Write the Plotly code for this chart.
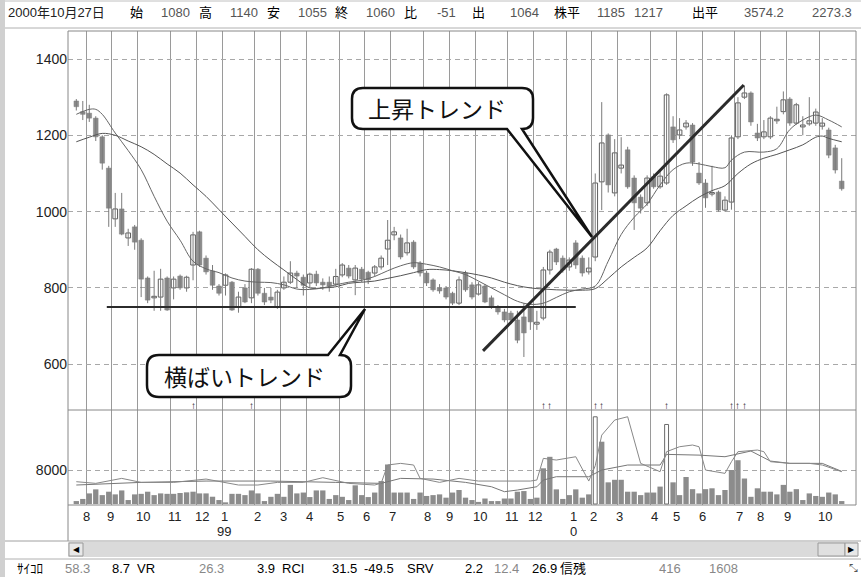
import plotly.graph_objects as go

W, H = 861, 577

# ---------------- data ----------------
opens = [1290,1262,1258,1245,1196,1114,981,1007,931,960,925,826,774,776,826,800,831,800,860,947,
         878,844,805,807,815,750,800,774,849,786,776,750,800,815,839,828,813,836,815,815,
         810,834,852,821,849,841,839,855,902,939,931,892,920,865,839,821,800,800,786,760,
         839,808,784,805,774,750,737,734,716,724,750,705,721,847,902,878,855,918,878,842,
         881,1078,1201,1049,1114,1162,1088,1038,1023,1091,1065,1075,1222,1201,1222,1227,1101,1075,1046,1051,
         1004,1025,1196,1300,1311,1206,1196,1196,1238,1262,1295,1232,1222,1230,1232,1224,1214,1167,1080]
highs = [1295,1290,1280,1250,1200,1120,1049,1049,955,965,930,830,845,850,830,830,835,832,947,950,
         885,860,810,838,818,790,810,852,852,800,800,795,830,870,845,835,840,845,825,830,
         850,865,860,860,855,845,860,885,978,960,940,955,925,870,845,825,810,805,790,830,
         845,815,815,810,780,755,745,740,740,760,752,740,855,900,905,885,880,925,885,880,
         1100,1287,1205,1190,1195,1170,1095,1045,1095,1100,1110,1310,1250,1245,1240,1232,1130,1085,1120,1055,
         1040,1200,1300,1330,1315,1230,1240,1250,1275,1315,1300,1285,1250,1300,1270,1245,1220,1175,1140]
lows = [1265,1240,1235,1185,1110,960,960,938,910,900,776,760,740,740,740,770,795,790,820,855,
        835,795,780,780,740,735,760,760,780,755,760,745,795,810,800,780,800,805,795,790,
        805,828,825,781,815,810,830,848,860,925,875,885,850,830,805,790,785,770,755,755,
        790,770,780,760,745,730,710,705,655,619,690,690,715,835,860,840,845,850,830,835,
        870,1004,1050,1040,1100,1060,952,995,1015,1060,1060,1070,1180,1190,1215,1120,1070,1010,1040,1000,
        1000,1005,1190,1295,1225,1185,1190,1190,1230,1255,1225,1228,1200,1225,1225,1215,1140,1100,1055]
closes = [1275,1255,1245,1196,1127,1009,1007,941,944,920,823,768,778,823,742,823,800,828,939,860,
          842,807,786,834,742,776,763,849,786,763,768,789,815,839,831,807,836,813,808,805,
          830,860,831,852,823,821,855,878,925,947,881,918,855,839,813,795,792,776,760,821,
          795,776,808,763,750,737,716,716,663,682,711,710,847,894,868,847,873,860,839,852,
          1075,1180,1070,1154,1122,1065,1023,1009,1088,1065,1093,1306,1188,1214,1232,1130,1075,1036,1049,1004,
          1030,1193,1285,1311,1235,1193,1209,1245,1242,1293,1232,1280,1227,1238,1261,1232,1148,1109,1060]
volumes = [700,1200,2500,3450,2100,2900,2270,3200,940,2270,2400,2900,2100,2500,2400,2400,2600,2750,2900,2500,
           2500,1720,940,400,2400,2400,2100,3200,2500,700,1700,2400,1700,4500,2500,2700,1640,3200,3200,1200,
           2100,1700,940,4400,2100,1640,2700,5400,9300,2700,2700,2700,1200,2700,1900,2100,2270,1500,2700,3300,
           1500,940,500,1300,700,700,1300,1300,2900,3050,1200,1500,8400,11100,3450,1200,2100,3450,1500,2270,
           20500,14650,5100,5700,5700,2900,2900,2100,2700,2700,4100,18700,5100,2100,6350,3500,2500,3500,3700,2100,
           3300,8000,10300,6000,1700,3700,2900,2900,2270,4500,2900,3500,940,2500,1900,1700,2700,2270,700]
hollow_vol_weeks = [80, 91]

# moving averages (week index, value)
ma_short_x = [0,2,3,4,6,8,10,12,14,16,18,20,22,24,26,28,30,32,34,36,38,40,42,44,46,48,50,52,54,56,58,60,
              62,64,66,68,70,72,74,76,78,80,82,84,86,88,90,92,94,96,98,100,101,103,106,108,110,112,114,116,118]
ma_short_y = [1255,1268,1268,1255,1206,1160,1110,1040,975,925,870,850,840,826,818,815,814,808,797,796,800,808,
              815,820,830,845,858,866,862,855,845,835,818,800,782,765,757,760,775,790,797,805,870,940,985,1020,
              1070,1110,1127,1125,1118,1115,1135,1156,1156,1165,1215,1240,1253,1240,1222]
ma_long_x = [0,2,4,6,8,10,12,14,16,18,20,22,24,26,28,30,32,34,36,38,40,42,44,46,48,50,52,54,56,58,60,62,64,66,
             68,70,72,74,76,78,80,82,84,86,88,90,92,94,96,98,100,102,104,106,108,110,112,114,115,116,118]
ma_long_y = [1183,1195,1205,1200,1185,1170,1150,1125,1101,1070,1040,1005,970,935,900,872,847,822,800,800,803,
             812,815,818,825,832,840,848,848,845,840,834,826,815,806,800,797,795,794,794,798,825,855,880,905,
             950,990,1015,1038,1055,1068,1100,1125,1140,1150,1162,1175,1195,1198,1192,1183]
vma_s_x = [0,3,7,10,15,20,25,28,31,35,38,42,46,47,48,50,52,53,56,59,62,66,70,71,72,74,77,79,80,81,83,85,87,
           90,91,93,95,96,97,100,101,102,105,106,107,110,113,115,118]
vma_s_y = [5250,4860,6030,5090,5090,5870,4470,4470,5090,5090,6190,4860,4470,4900,9170,9560,9170,6030,5090,
           6030,5400,5400,5400,5640,10730,10340,11120,5400,9000,16200,19740,20520,9560,7600,12300,13470,
           13870,13470,7990,7210,9950,12300,12690,12300,9950,9560,9560,9170,7600]
vma_l_x = [0,5,10,20,30,40,47,50,55,60,64,66,68,71,72,74,79,81,85,90,91,96,100,104,107,110,115,118]
vma_l_y = [4470,4860,5090,5400,5400,5090,4860,6030,5870,5090,4070,2900,3290,4070,5640,6420,6420,7990,9170,
           9170,11670,11500,11120,12460,10100,9560,9560,7680]

# trend lines (week index, price)
flat_trend_x = [4.7, 77.0]
flat_trend_y = [750, 750]
up_trend_x = [62.7, 102.9]
up_trend_y = [635, 1332]

signal_weeks = [18, 27, 72, 73, 80, 81, 91, 101, 102, 103]

month_grid = [1.5,5.5,9.5,14.5,18.5,22.5,27.5,31.5,35.5,40.5,44.5,48.5,53.5,57.5,61.5,66.5,70.5,75.5,
              79.5,83.5,88.5,92.5,96.5,101.5,105.5,109.5,114.5]
month_label_pos = [1.5,5.2,10.3,15.2,19.4,22.8,27.9,31.9,35.9,40.8,44.8,48.7,54.1,57.6,62.2,67.2,70.7,76.7,
                   79.7,83.8,89.2,92.6,96.6,102.3,105.4,109.6,115.4]
month_labels = ['8','9','10','11','12','1','2','3','4','5','6','7','8','9','10','11','12','1','2','3','4',
                '5','6','7','8','9','10']
year_labels = {5: '99', 17: '0'}

price_ticks = [600, 800, 1000, 1200, 1400]
vol_ticks = [8000]

header_tokens = [("2000年10月27日", 6, '#222'), ("始", 128, '#000'), ("1080", 159, '#555'),
                 ("高", 197, '#000'), ("1140", 228, '#555'), ("安", 265, '#000'), ("1055", 296, '#555'),
                 ("終", 333, '#000'), ("1060", 364, '#555'), ("比", 402, '#000'), ("-51", 435, '#555'),
                 ("出", 470, '#000'), ("1064", 508, '#555'), ("株平", 552, '#000'), ("1185", 595, '#555'),
                 ("1217", 632, '#555'), ("出平", 690, '#000'), ("3574.2", 742, '#555'), ("2273.3", 810, '#555')]
status_tokens = [("ｻｲｺﾛ", 15, '#000'), ("58.3", 63, '#888'), ("8.7", 110, '#000'), ("VR", 135, '#000'),
                 ("26.3", 197, '#888'), ("3.9", 255, '#000'), ("RCI", 280, '#000'), ("31.5", 330, '#000'),
                 ("-49.5", 362, '#000'), ("SRV", 405, '#000'), ("2.2", 463, '#000'), ("12.4", 492, '#888'),
                 ("26.9", 530, '#000'), ("信残", 558, '#000'), ("416", 657, '#888'), ("1608", 707, '#888')]

# ---------------- helpers (pixel -> paper) ----------------
def PX(x):
    return x / W
def PY(y):
    return 1 - y / H

NUMFONT = "Liberation Sans, Noto Sans CJK JP, sans-serif"
JPFONT = "Noto Sans CJK JP, sans-serif"

fig = go.Figure()

n = len(opens)
idx = list(range(n))

# wicks
wx, wy = [], []
for i in idx:
    wx += [i, i, None]
    wy += [lows[i], highs[i], None]
fig.add_trace(go.Scatter(x=wx, y=wy, mode='lines', line=dict(color='#7a7a7a', width=1),
                         hoverinfo='skip', showlegend=False, xaxis='x', yaxis='y'))

# bodies
up_x, up_b, up_h, dn_x, dn_b, dn_h = [], [], [], [], [], []
for i in idx:
    o, c = opens[i], closes[i]
    b = min(o, c)
    h = max(abs(c - o), 4)
    if c >= o:
        up_x.append(i); up_b.append(b); up_h.append(h)
    else:
        dn_x.append(i); dn_b.append(b); dn_h.append(h)
fig.add_trace(go.Bar(x=dn_x, y=dn_h, base=dn_b, width=0.72, marker=dict(color='#8c8c8c', line=dict(color='#7c7c7c', width=0.5)),
                     showlegend=False, xaxis='x', yaxis='y'))
fig.add_trace(go.Bar(x=up_x, y=up_h, base=up_b, width=0.72, marker=dict(color='#ffffff', line=dict(color='#5e5e5e', width=1)),
                     showlegend=False, xaxis='x', yaxis='y'))

# moving averages
fig.add_trace(go.Scatter(x=ma_long_x, y=ma_long_y, mode='lines', line=dict(color='#555', width=1, shape='spline'),
                         showlegend=False, xaxis='x', yaxis='y'))
fig.add_trace(go.Scatter(x=ma_short_x, y=ma_short_y, mode='lines', line=dict(color='#666', width=1, shape='spline'),
                         showlegend=False, xaxis='x', yaxis='y'))

# trend lines
fig.add_trace(go.Scatter(x=flat_trend_x, y=flat_trend_y, mode='lines', line=dict(color='#2b2b2b', width=2),
                         showlegend=False, xaxis='x', yaxis='y'))
fig.add_trace(go.Scatter(x=up_trend_x, y=up_trend_y, mode='lines', line=dict(color='#2b2b2b', width=3),
                         showlegend=False, xaxis='x', yaxis='y'))

# volume
vcol = ['#ffffff' if i in hollow_vol_weeks else '#8c8c8c' for i in idx]
vline = ['#6a6a6a' if i in hollow_vol_weeks else '#8c8c8c' for i in idx]
vlw = [1 if i in hollow_vol_weeks else 0 for i in idx]
vw = [0.6 if i in hollow_vol_weeks else 0.82 for i in idx]
fig.add_trace(go.Bar(x=idx, y=volumes, width=vw, marker=dict(color=vcol, line=dict(color=vline, width=vlw)),
                     showlegend=False, xaxis='x2', yaxis='y2'))
fig.add_trace(go.Scatter(x=vma_l_x, y=vma_l_y, mode='lines', line=dict(color='#777', width=1),
                         showlegend=False, xaxis='x2', yaxis='y2'))
fig.add_trace(go.Scatter(x=vma_s_x, y=vma_s_y, mode='lines', line=dict(color='#888', width=1),
                         showlegend=False, xaxis='x2', yaxis='y2'))

xr = [-1.28, 120.2]
xcommon = dict(range=xr, tickmode='array', tickvals=month_grid, showticklabels=False, showgrid=True,
               gridcolor='#9a9a9a', gridwidth=1, zeroline=False, ticks='', showline=False, fixedrange=True)

fig.update_layout(
    width=W, height=H, margin=dict(l=0, r=0, t=0, b=0),
    paper_bgcolor='white', plot_bgcolor='white', barmode='overlay', bargap=0,
    showlegend=False, hovermode=False,
    xaxis=dict(domain=[PX(68), PX(856)], anchor='y', **xcommon),
    xaxis2=dict(domain=[PX(68), PX(856)], anchor='y2', matches='x', **xcommon),
    yaxis=dict(domain=[PY(410), PY(31)], range=[480, 1473.4], tickvals=price_ticks, fixedrange=True,
               showgrid=True, gridcolor='#a8a8a8', griddash='5px,4px', zeroline=False, ticks='',
               tickfont=dict(family=NUMFONT, size=14, color='#222'), anchor='x'),
    yaxis2=dict(domain=[PY(505), PY(410)], range=[-225, 22100], tickvals=vol_ticks, fixedrange=True,
                showgrid=True, gridcolor='#a8a8a8', griddash='5px,4px', zeroline=False, ticks='',
                tickfont=dict(family=NUMFONT, size=14, color='#222'), anchor='x2'),
)

shapes = []
def rect(x0, y0, x1, y1, fill=None, line=None, lw=1, layer='above'):
    d = dict(type='rect', xref='paper', yref='paper', x0=PX(x0), x1=PX(x1), y0=PY(y1), y1=PY(y0),
             line=dict(color=line or 'rgba(0,0,0,0)', width=lw if line else 0), layer=layer)
    if fill:
        d['fillcolor'] = fill
    shapes.append(d)
def hline(x0, x1, y, color='#808080', lw=1):
    shapes.append(dict(type='line', xref='paper', yref='paper', x0=PX(x0), x1=PX(x1), y0=PY(y), y1=PY(y),
                       line=dict(color=color, width=lw)))
def vline(x, y0, y1, color='#808080', lw=1):
    shapes.append(dict(type='line', xref='paper', yref='paper', x0=PX(x), x1=PX(x), y0=PY(y0), y1=PY(y1),
                       line=dict(color=color, width=lw)))

# window chrome
rect(0, 0, 5, 577, fill='#d0d0d0')
hline(5, 861, 1, '#c0c0c0')
hline(5, 861, 28, '#b0b0b0')
rect(68, 31, 856, 505, line='#888888')
hline(68, 856, 410, '#888888')
vline(68, 505, 541, '#888888')
hline(5, 861, 541, '#a0a0a0')
rect(68, 542, 858, 557, fill='#dadada')
rect(69, 543, 83, 556, fill='#e8e8e8', line='#9a9a9a')
rect(818, 543, 845, 556, fill='#e0e0e0', line='#9a9a9a')
rect(845, 543, 858, 556, fill='#e8e8e8', line='#9a9a9a')
hline(5, 861, 559, '#b0b0b0')

# callouts
def path(points_cmds):
    out = []
    for cmd, pts in points_cmds:
        s = cmd + ' ' + ' '.join(f"{PX(x):.5f},{PY(y):.5f}" for x, y in pts)
        out.append(s)
    return ' '.join(out) + ' Z'

c1 = path([('M', [(363, 88)]), ('L', [(522, 88)]), ('Q', [(533, 88), (533, 99)]), ('L', [(533, 118)]),
           ('Q', [(533, 129), (522, 129)]), ('L', [(592, 237)]), ('L', [(507, 129)]), ('L', [(363, 129)]),
           ('Q', [(352, 129), (352, 118)]), ('L', [(352, 99)]), ('Q', [(352, 88), (363, 88)])])
c2 = path([('M', [(159, 355)]), ('L', [(328, 355)]), ('L', [(365, 309)]), ('L', [(340, 355)]),
           ('Q', [(351, 355), (351, 366)]), ('L', [(351, 386)]), ('Q', [(351, 397), (340, 397)]),
           ('L', [(159, 397)]), ('Q', [(147, 397), (147, 385)]), ('L', [(147, 367)]), ('Q', [(147, 355), (159, 355)])])
for p in (c1, c2):
    shapes.append(dict(type='path', xref='paper', yref='paper', path=p, fillcolor='white',
                       line=dict(color='#111', width=2.5), layer='above'))

ann = []
ann.append(dict(text='上昇トレンド', x=PX(437), y=PY(108), xref='paper', yref='paper', showarrow=False,
                font=dict(family=JPFONT, size=23, color='#111'), xanchor='center', yanchor='middle'))
ann.append(dict(text='横ばいトレンド', x=PX(244), y=PY(376), xref='paper', yref='paper', showarrow=False,
                font=dict(family=JPFONT, size=23, color='#111'), xanchor='center', yanchor='middle'))

for w in signal_weeks:
    ann.append(dict(text='↑', x=w, y=PY(405), xref='x', yref='paper', showarrow=False,
                    font=dict(family='Liberation Sans, DejaVu Sans', size=10, color='#111'),
                    xanchor='center', yanchor='middle'))

for k, (pos, lab) in enumerate(zip(month_label_pos, month_labels)):
    ann.append(dict(text=lab, x=pos, y=PY(516), xref='x', yref='paper', showarrow=False,
                    font=dict(family=NUMFONT, size=13, color='#222'), xanchor='center', yanchor='middle'))
    if k in year_labels:
        ann.append(dict(text=year_labels[k], x=pos, y=PY(531), xref='x', yref='paper', showarrow=False,
                        font=dict(family=NUMFONT, size=13, color='#222'), xanchor='center', yanchor='middle'))

for t, x, c in header_tokens:
    ann.append(dict(text=t, x=PX(x), y=PY(12), xref='paper', yref='paper', showarrow=False,
                    font=dict(family=NUMFONT, size=13, color=c), xanchor='left', yanchor='middle'))
for t, x, c in status_tokens:
    ann.append(dict(text=t, x=PX(x), y=PY(568), xref='paper', yref='paper', showarrow=False,
                    font=dict(family=NUMFONT, size=13, color=c), xanchor='left', yanchor='middle'))

ann.append(dict(text='◀', x=PX(76), y=PY(549.5), xref='paper', yref='paper', showarrow=False,
                font=dict(family='DejaVu Sans', size=8, color='#000'), xanchor='center', yanchor='middle'))
ann.append(dict(text='▶', x=PX(851.5), y=PY(549.5), xref='paper', yref='paper', showarrow=False,
                font=dict(family='DejaVu Sans', size=8, color='#000'), xanchor='center', yanchor='middle'))
ann.append(dict(text='⤡', x=PX(853), y=PY(568), xref='paper', yref='paper', showarrow=False,
                font=dict(family='DejaVu Sans', size=11, color='#555'), xanchor='center', yanchor='middle'))

fig.update_layout(shapes=shapes, annotations=ann)
fig.write_html("out.html", config={'displayModeBar': False, 'staticPlot': True},
               post_script="document.body.style.margin='0';document.body.style.padding='0';")
